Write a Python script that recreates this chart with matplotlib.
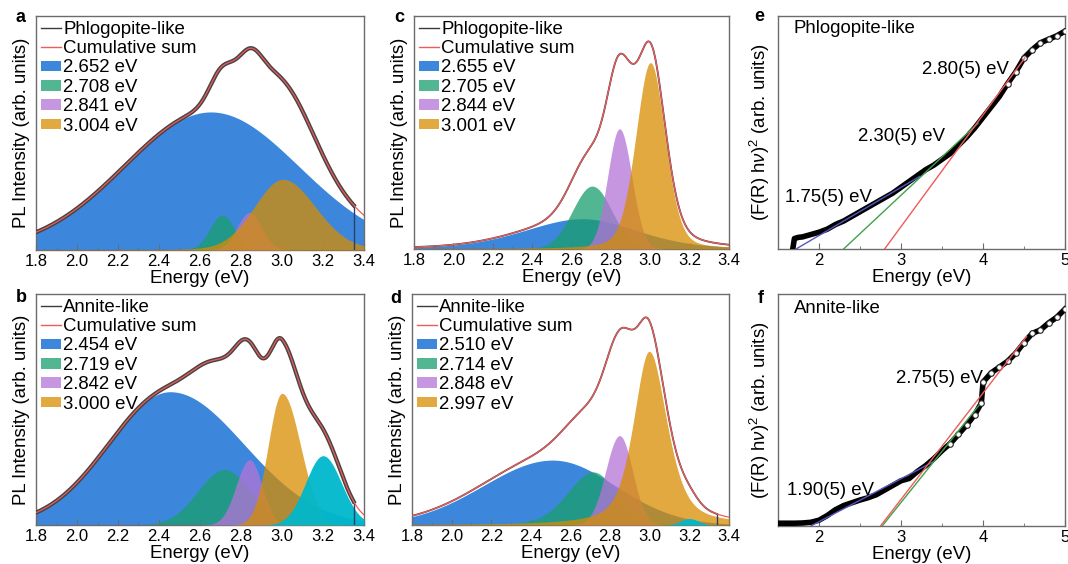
import numpy as np
import matplotlib
matplotlib.use('Agg')
import matplotlib.pyplot as plt
from matplotlib.patches import Patch
from matplotlib.lines import Line2D
from matplotlib.ticker import MultipleLocator, FormatStrFormatter

plt.rcParams['font.family'] = ['Liberation Sans', 'DejaVu Sans']
plt.rcParams['mathtext.fontset'] = 'custom'
plt.rcParams['mathtext.rm'] = 'Liberation Sans'
plt.rcParams['mathtext.it'] = 'Liberation Sans:italic'

# -------------------------------------------------------------------------------------
# PL fit components: centre [eV], height [norm.], low/high side sigma [eV], lorentzian fraction
pl_a_centre = [2.652, 2.708, 2.841, 3.004]
pl_a_height = [0.59, 0.15, 0.16, 0.302]
pl_a_sig_lo = [0.42, 0.06, 0.06, 0.14]
pl_a_sig_hi = [0.43, 0.06, 0.06, 0.16]
pl_a_eta = [0.0, 0.0, 0.0, 0.1]

pl_b_centre = [2.454, 2.719, 2.842, 3.000, 3.20]
pl_b_height = [0.577, 0.24, 0.283, 0.57, 0.30]
pl_b_sig_lo = [0.30, 0.13, 0.065, 0.067, 0.085]
pl_b_sig_hi = [0.36, 0.13, 0.06, 0.09, 0.09]
pl_b_eta = [0.0, 0.0, 0.0, 0.0, 0.0]

pl_c_centre = [2.655, 2.705, 2.844, 3.001]
pl_c_height = [0.13, 0.27, 0.516, 0.80]
pl_c_sig_lo = [0.30, 0.10, 0.06, 0.075]
pl_c_sig_hi = [0.28, 0.10, 0.062, 0.075]
pl_c_eta = [0.3, 0.0, 0.0, 0.25]

pl_d_centre = [2.510, 2.714, 2.848, 2.997, 3.20]
pl_d_height = [0.281, 0.23, 0.387, 0.752, 0.028]
pl_d_sig_lo = [0.35, 0.13, 0.07, 0.08, 0.045]
pl_d_sig_hi = [0.315, 0.12, 0.065, 0.09, 0.045]
pl_d_eta = [0.0, 0.2, 0.0, 0.55, 0.0]

# end of the measured spectra [eV] (None -> full range)
pl_end = {'a': 3.35, 'b': 3.35, 'c': None, 'd': 3.34}
pl_sample = {'a': 'Phlogopite-like', 'b': 'Annite-like', 'c': 'Phlogopite-like', 'd': 'Annite-like'}

# Tauc plots: energy [eV] and (F(R) hv)^2 [norm.]
tauc_e_energy = [1.68, 1.70, 1.75, 1.80, 1.90, 2.00, 2.10, 2.20, 2.30, 2.40, 2.50, 2.60, 2.70,
                 2.80, 2.90, 3.00, 3.10, 3.20, 3.30, 3.40, 3.50, 3.60, 3.70, 3.80, 3.90, 4.00,
                 4.10, 4.20, 4.30, 4.40, 4.50, 4.60, 4.70, 4.80, 4.90, 5.00]
tauc_e_value = [0.0, 0.045, 0.05, 0.052, 0.062, 0.072, 0.085, 0.105, 0.12, 0.14, 0.16, 0.18, 0.2,
                0.22, 0.24, 0.265, 0.29, 0.315, 0.34, 0.36, 0.385, 0.41, 0.445, 0.48, 0.52, 0.565,
                0.61, 0.655, 0.71, 0.76, 0.82, 0.855, 0.885, 0.90, 0.915, 0.935]
tauc_f_energy = [1.50, 1.60, 1.70, 1.80, 1.90, 2.00, 2.10, 2.20, 2.30, 2.40, 2.50, 2.60, 2.70,
                 2.80, 2.90, 3.00, 3.10, 3.20, 3.30, 3.40, 3.50, 3.60, 3.70, 3.80, 3.90, 3.98,
                 4.00, 4.10, 4.20, 4.30, 4.40, 4.50, 4.60, 4.70, 4.80, 4.90, 5.00]
tauc_f_value = [0.012, 0.012, 0.012, 0.013, 0.016, 0.025, 0.045, 0.07, 0.088, 0.10, 0.112, 0.122,
                0.135, 0.155, 0.175, 0.195, 0.205, 0.235, 0.26, 0.29, 0.325, 0.355, 0.395, 0.435,
                0.48, 0.53, 0.62, 0.66, 0.685, 0.71, 0.745, 0.79, 0.83, 0.845, 0.875, 0.90, 0.935]

# linear fits: (x start, y start, x end, y end)
tauc_e_fits = [(1.72, 0.0, 3.23, 0.312), (2.30, 0.0, 3.94, 0.54), (2.80, 0.0, 4.51, 0.82)]
tauc_f_fits = [(1.90, 0.0, 3.39, 0.276), (2.77, 0.0, 3.95, 0.52), (2.75, 0.0, 4.53, 0.816)]
tauc_e_labels = [('1.75(5) eV', 1.585, 0.203), ('2.30(5) eV', 2.48, 0.465), ('2.80(5) eV', 3.25, 0.751)]
tauc_f_labels = [('1.90(5) eV', 1.606, 0.134), ('2.75(5) eV', 2.94, 0.615)]
# -------------------------------------------------------------------------------------

comp_colors = ['#3c87dc', '#1a9e6e', '#b573d7', '#d78d00', '#00b8cc']
comp_alpha = [1.0, 0.75, 0.75, 0.75, 0.95]
fit_colors = ['#5656c0', '#3fa24a', '#f05a5a']
spine_color = '#6b6b6b'
tick_size = 12
text_size = 13.4


def peak(x, centre, height, sig_lo, sig_hi, eta):
    sigma = np.where(x < centre, sig_lo, sig_hi)
    gauss = np.exp(-(x - centre) ** 2 / (2 * sigma ** 2))
    lorentz = 1.0 / (1.0 + ((x - centre) / (1.1774 * sigma)) ** 2)
    return height * ((1 - eta) * gauss + eta * lorentz)


def style_axis(ax, major, minor, xlim):
    ax.set_xlim(*xlim)
    ax.set_ylim(0, 1)
    ax.set_yticks([])
    ax.xaxis.set_major_locator(MultipleLocator(major))
    ax.xaxis.set_minor_locator(MultipleLocator(minor))
    ax.tick_params(axis='x', which='major', direction='in', length=4, width=0.8,
                   color=spine_color, labelsize=tick_size, pad=3)
    ax.tick_params(axis='x', which='minor', direction='in', length=2, width=0.6, color=spine_color)
    for spine in ax.spines.values():
        spine.set_color(spine_color)
        spine.set_linewidth(1.0)
    ax.set_xlabel('Energy (eV)', fontsize=text_size, labelpad=0.5)


def plot_pl(ax, tag, centre, height, sig_lo, sig_hi, eta, data_lw):
    energy = np.linspace(1.8, 3.4, 800)
    total = np.zeros_like(energy)
    for i in range(len(centre)):
        comp = peak(energy, centre[i], height[i], sig_lo[i], sig_hi[i], eta[i])
        total += comp
        ax.fill_between(energy, 0, comp, color=comp_colors[i], alpha=comp_alpha[i],
                        lw=0, zorder=1 + i)
    if pl_end[tag] is not None:
        keep = energy <= pl_end[tag]
        ax.plot(energy[keep], total[keep], color='#454545', lw=data_lw, zorder=10)
        # detector cut-off at the end of the measured range
        ax.plot([energy[keep][-1]] * 2, [total[keep][-1], 0.0], color='#2c3e63', lw=1.0, zorder=10)
    else:
        ax.plot(energy, total, color='#454545', lw=data_lw, zorder=10)
    ax.plot(energy, total, color='#f05a5a', lw=0.9, zorder=11)

    handles = [Line2D([], [], color='#3a3a3a', lw=1.0),
               Line2D([], [], color='#f05a5a', lw=1.0)]
    labels = [pl_sample[tag], 'Cumulative sum']
    for i in range(4):
        handles.append(Patch(facecolor=comp_colors[i], alpha=comp_alpha[i], lw=0))
        labels.append('%.3f eV' % centre[i])
    ax.legend(handles, labels, loc='upper left', bbox_to_anchor=(0, 1), frameon=False,
              fontsize=text_size, handlelength=1.1, handleheight=0.5, handletextpad=0.12,
              labelspacing=0.13, borderaxespad=0.15, borderpad=0.1)
    style_axis(ax, 0.2, 0.1, (1.8, 3.4))
    ax.xaxis.set_major_formatter(FormatStrFormatter('%.1f'))
    ax.set_ylabel('PL Intensity (arb. units)', fontsize=text_size, labelpad=4)


def plot_tauc(ax, sample, energy, value, fits, labels, circle_from, sample_y):
    energy = np.asarray(energy)
    value = np.asarray(value)
    ax.plot(energy, value, color='black', lw=4.0, zorder=3)
    show = energy >= circle_from
    ax.plot(energy[show], value[show], ls='none', marker='o', ms=4, mfc='white', mec='#222222',
            mew=0.8, zorder=4)
    for i, (x0, y0, x1, y1) in enumerate(fits):
        ax.plot([x0, x1], [y0, y1], color=fit_colors[i], lw=1.0, zorder=5)
    for text, x, y in labels:
        ax.text(x, y, text, fontsize=text_size, ha='left', va='baseline', zorder=6)
    ax.text(0.055, sample_y, sample, transform=ax.transAxes, fontsize=text_size,
            ha='left', va='baseline')
    style_axis(ax, 1, 0.5, (1.5, 5.0))
    ax.set_ylabel(r'(F(R) h$\nu$)$^2$ (arb. units)', fontsize=text_size, labelpad=4)


fig = plt.figure(figsize=(10.68, 5.64), dpi=100)
W, H = 1068.0, 564.0


def add_axes(left, top, right, bottom):
    return fig.add_axes([left / W, 1 - bottom / H, (right - left) / W, (bottom - top) / H])


ax_a = add_axes(36, 16, 364, 250)
ax_c = add_axes(414, 16, 729, 249)
ax_e = add_axes(778, 16, 1065, 249)
ax_b = add_axes(36, 294, 364, 525)
ax_d = add_axes(412, 294, 729, 525)
ax_f = add_axes(778, 294, 1065, 526)

plot_pl(ax_a, 'a', pl_a_centre, pl_a_height, pl_a_sig_lo, pl_a_sig_hi, pl_a_eta, 3.0)
plot_pl(ax_b, 'b', pl_b_centre, pl_b_height, pl_b_sig_lo, pl_b_sig_hi, pl_b_eta, 3.0)
plot_pl(ax_c, 'c', pl_c_centre, pl_c_height, pl_c_sig_lo, pl_c_sig_hi, pl_c_eta, 1.3)
plot_pl(ax_d, 'd', pl_d_centre, pl_d_height, pl_d_sig_lo, pl_d_sig_hi, pl_d_eta, 1.3)
plot_tauc(ax_e, 'Phlogopite-like', tauc_e_energy, tauc_e_value, tauc_e_fits, tauc_e_labels,
          4.25, 0.926)
plot_tauc(ax_f, 'Annite-like', tauc_f_energy, tauc_f_value, tauc_f_fits, tauc_f_labels,
          3.6, 0.917)

# panel letters
for letter, px, py in [('a', 21, 22), ('c', 399, 22), ('e', 759, 21),
                       ('b', 21, 302), ('d', 396, 303), ('f', 761, 303)]:
    fig.text(px / W, 1 - py / H, letter, fontsize=13, fontweight='bold',
             ha='center', va='baseline')

fig.savefig('out.png', dpi=100)
